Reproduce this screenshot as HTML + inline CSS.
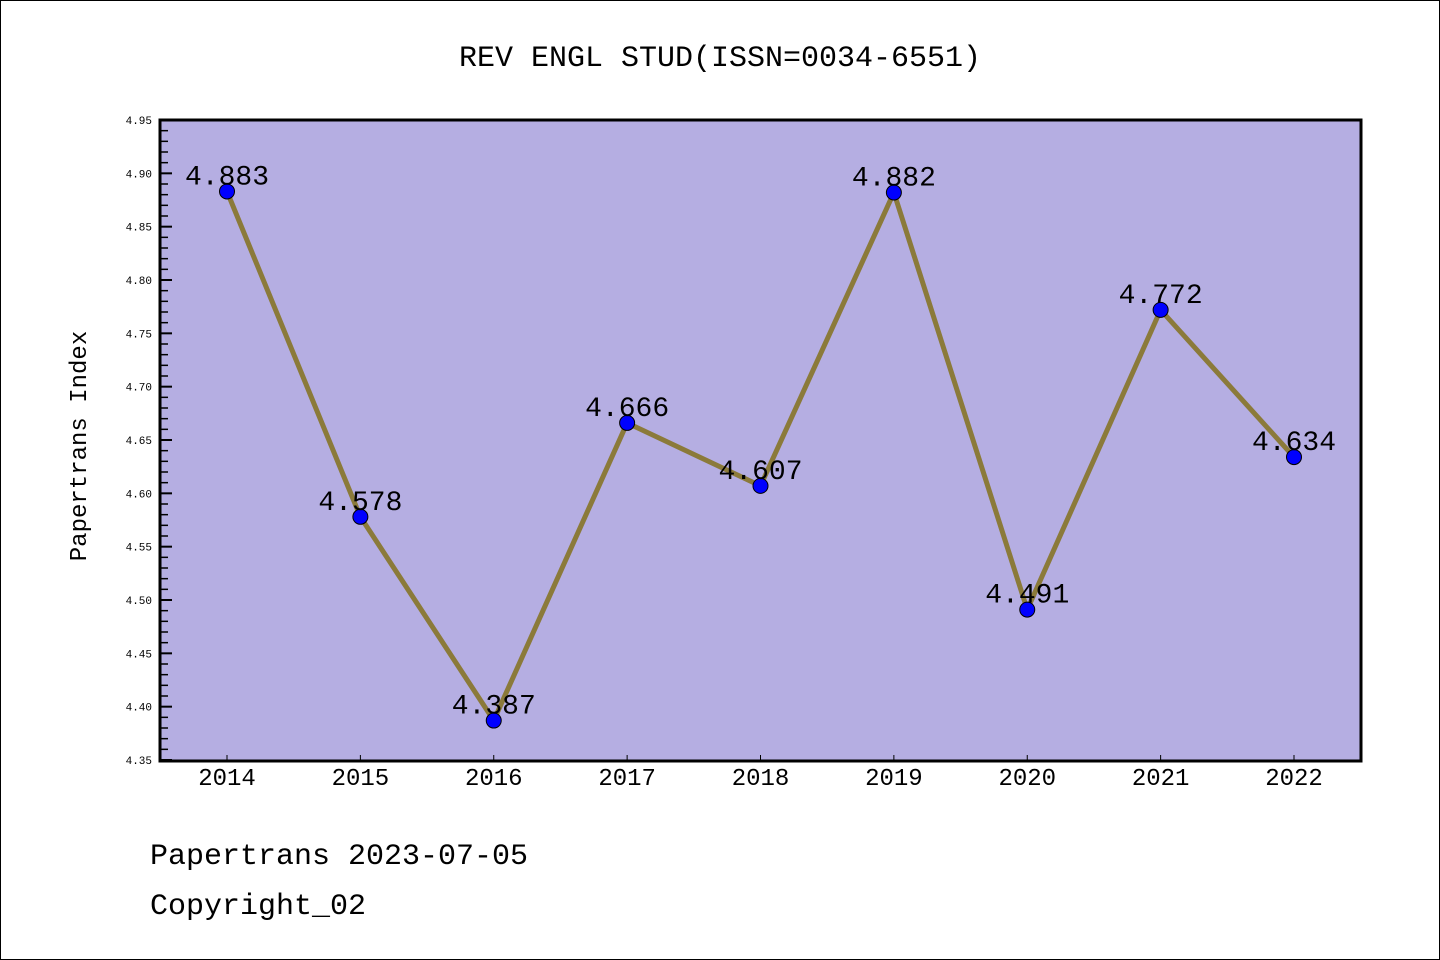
<!DOCTYPE html>
<html><head><meta charset="utf-8"><style>
body{margin:0;background:#fff}
svg{display:block}
text{font-family:"Liberation Mono","Noto Sans CJK SC",monospace}
</style></head><body>
<svg width="1440" height="960" xmlns="http://www.w3.org/2000/svg" id="chart">
<rect x="0.5" y="0.5" width="1439" height="959" fill="#fff" stroke="#000"/>
<text x="720" y="66" text-anchor="middle" font-size="30">REV ENGL STUD(ISSN=0034-6551)</text>
<rect x="160" y="120" width="1201" height="641" fill="#b5aee2"/>
<g id="axes"></g>
<g id="series"></g>
<rect x="160" y="120" width="1201" height="641" fill="none" stroke="#000" stroke-width="3"/>
<text x="86" y="446" text-anchor="middle" font-size="24" transform="rotate(-90 86 446)">Papertrans Index</text>
<text x="150" y="864" font-size="30">Papertrans 2023-07-05</text>
<text x="150" y="914" font-size="30">Copyright_02</text>
</svg>
<script>
const years=["2014","2015","2016","2017","2018","2019","2020","2021","2022"];
const values=[4.883,4.578,4.387,4.666,4.607,4.882,4.491,4.772,4.634];
const yTicks=["4.35","4.40","4.45","4.50","4.55","4.60","4.65","4.70","4.75","4.80","4.85","4.90","4.95"];
const NS="http://www.w3.org/2000/svg";
const yMin=4.35,yMax=4.95;
function ys(v){return 760-(v-yMin)/(yMax-yMin)*640;}
function xs(i){return 227+i*(1294-227)/(years.length-1);}
function mk(tag,attrs,parent){const e=document.createElementNS(NS,tag);for(const k in attrs)e.setAttribute(k,attrs[k]);parent.appendChild(e);return e;}
const ax=document.getElementById('axes'),se=document.getElementById('series');
yTicks.forEach(t=>{const v=parseFloat(t),y=ys(v);
 const l=mk('line',{x1:160,x2:172,y1:y,y2:y,stroke:'#000','stroke-width':2},ax);
 
 
 const tx=mk('text',{x:152,y:y+4,'text-anchor':'end','font-size':11},ax);tx.textContent=t;
 
 
});
for(let k=0;k<60;k++){if(k%5===0)continue;const y=ys(yMin+k*0.01);
 const l=mk('line',{x1:160,x2:168,y1:y,y2:y,stroke:'#000','stroke-width':1.5},ax);
 
 
}
years.forEach((yr,i)=>{const x=xs(i);
 const l=mk('line',{x1:x,x2:x,y1:755,y2:761,stroke:'#000','stroke-width':1},ax);
 
 
 const tx=mk('text',{x:x,y:785,'text-anchor':'middle','font-size':24,'font-family':'Liberation Sans, sans-serif'},ax);tx.textContent=yr;
 
 
});
const pts=values.map((v,i)=>xs(i)+','+ys(v)).join(' ');
const pl=mk('polyline',{points:pts,fill:'none',stroke:'#8b7a3a','stroke-width':5,'stroke-linejoin':'round'},se);


values.forEach((v,i)=>{
 const c=mk('circle',{cx:xs(i),cy:ys(v),r:7.5,fill:'#0000ff',stroke:'#000','stroke-width':1},se);
 
 
 const tx=mk('text',{x:xs(i),y:ys(v)-7,'text-anchor':'middle','font-size':28},se);tx.textContent=v.toFixed(3);
 
 
});
</script>
</body></html>
